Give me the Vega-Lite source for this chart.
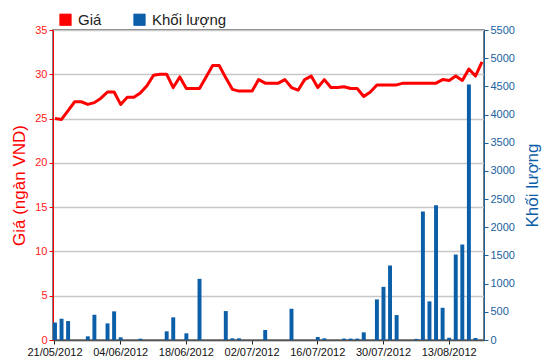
{
  "$schema": "https://vega.github.io/schema/vega-lite/v6.json",
  "width": 431,
  "height": 310,
  "autosize": {"type": "none"},
  "padding": {"left": 53, "top": 30, "right": 66, "bottom": 24},
  "config": {
    "font": "Liberation Sans",
    "view": {"stroke": "#555555", "strokeWidth": 1.5},
    "axis": {"labelFont": "Liberation Sans", "titleFont": "Liberation Sans", "titleFontWeight": "normal"}
  },
  "data": {"values": [
    {"date": "21/05/2012", "price": 25.0, "volume": 310},
    {"date": "22/05/2012", "price": 24.9, "volume": 377},
    {"date": "23/05/2012", "price": 25.9, "volume": 336},
    {"date": "24/05/2012", "price": 26.9, "volume": 0},
    {"date": "25/05/2012", "price": 26.9, "volume": 0},
    {"date": "28/05/2012", "price": 26.6, "volume": 65},
    {"date": "29/05/2012", "price": 26.8, "volume": 448},
    {"date": "30/05/2012", "price": 27.3, "volume": 0},
    {"date": "31/05/2012", "price": 28.0, "volume": 295},
    {"date": "01/06/2012", "price": 28.0, "volume": 508},
    {"date": "04/06/2012", "price": 26.6, "volume": 48},
    {"date": "05/06/2012", "price": 27.4, "volume": 0},
    {"date": "06/06/2012", "price": 27.4, "volume": 0},
    {"date": "07/06/2012", "price": 27.9, "volume": 23},
    {"date": "08/06/2012", "price": 28.7, "volume": 0},
    {"date": "11/06/2012", "price": 29.9, "volume": 0},
    {"date": "12/06/2012", "price": 30.0, "volume": 0},
    {"date": "13/06/2012", "price": 30.0, "volume": 154},
    {"date": "14/06/2012", "price": 28.5, "volume": 402},
    {"date": "15/06/2012", "price": 29.7, "volume": 0},
    {"date": "18/06/2012", "price": 28.4, "volume": 118},
    {"date": "19/06/2012", "price": 28.4, "volume": 0},
    {"date": "20/06/2012", "price": 28.4, "volume": 1085},
    {"date": "21/06/2012", "price": 29.7, "volume": 0},
    {"date": "22/06/2012", "price": 31.0, "volume": 0},
    {"date": "25/06/2012", "price": 31.0, "volume": 0},
    {"date": "26/06/2012", "price": 29.6, "volume": 513},
    {"date": "27/06/2012", "price": 28.3, "volume": 30},
    {"date": "28/06/2012", "price": 28.1, "volume": 30},
    {"date": "29/06/2012", "price": 28.1, "volume": 0},
    {"date": "02/07/2012", "price": 28.1, "volume": 0},
    {"date": "03/07/2012", "price": 29.4, "volume": 0},
    {"date": "04/07/2012", "price": 29.0, "volume": 177},
    {"date": "05/07/2012", "price": 29.0, "volume": 0},
    {"date": "06/07/2012", "price": 29.0, "volume": 0},
    {"date": "09/07/2012", "price": 29.4, "volume": 0},
    {"date": "10/07/2012", "price": 28.5, "volume": 554},
    {"date": "11/07/2012", "price": 28.2, "volume": 0},
    {"date": "12/07/2012", "price": 29.4, "volume": 0},
    {"date": "13/07/2012", "price": 29.8, "volume": 0},
    {"date": "16/07/2012", "price": 28.5, "volume": 53},
    {"date": "17/07/2012", "price": 29.4, "volume": 30},
    {"date": "18/07/2012", "price": 28.5, "volume": 0},
    {"date": "19/07/2012", "price": 28.5, "volume": 0},
    {"date": "20/07/2012", "price": 28.6, "volume": 25},
    {"date": "23/07/2012", "price": 28.4, "volume": 25},
    {"date": "24/07/2012", "price": 28.4, "volume": 25},
    {"date": "25/07/2012", "price": 27.5, "volume": 136},
    {"date": "26/07/2012", "price": 28.0, "volume": 0},
    {"date": "27/07/2012", "price": 28.8, "volume": 720},
    {"date": "30/07/2012", "price": 28.8, "volume": 943},
    {"date": "31/07/2012", "price": 28.8, "volume": 1322},
    {"date": "01/08/2012", "price": 28.8, "volume": 442},
    {"date": "02/08/2012", "price": 29.0, "volume": 0},
    {"date": "03/08/2012", "price": 29.0, "volume": 0},
    {"date": "06/08/2012", "price": 29.0, "volume": 20},
    {"date": "07/08/2012", "price": 29.0, "volume": 2278},
    {"date": "08/08/2012", "price": 29.0, "volume": 685},
    {"date": "09/08/2012", "price": 29.0, "volume": 2389},
    {"date": "10/08/2012", "price": 29.4, "volume": 572},
    {"date": "13/08/2012", "price": 29.3, "volume": 40},
    {"date": "14/08/2012", "price": 29.8, "volume": 1516},
    {"date": "15/08/2012", "price": 29.3, "volume": 1694},
    {"date": "16/08/2012", "price": 30.6, "volume": 4531},
    {"date": "17/08/2012", "price": 29.8, "volume": 35},
    {"date": "20/08/2012", "price": 31.4, "volume": 0}
  ]},
  "encoding": {
    "x": {
      "field": "date", "type": "ordinal", "sort": null,
      "scale": {"paddingInner": 0.4, "paddingOuter": 0},
      "axis": {
        "title": null, "labelAngle": 0, "labelFontSize": 11, "labelColor": "#111111",
        "values": ["21/05/2012", "04/06/2012", "18/06/2012", "02/07/2012", "16/07/2012", "30/07/2012", "13/08/2012"],
        "domainColor": "#555555", "domainWidth": 1.5, "tickColor": "#222222", "tickSize": 4, "labelPadding": 2
      }
    }
  },
  "layer": [
    {
      "mark": {"type": "bar", "opacity": 1},
      "encoding": {
        "y": {
          "field": "volume", "type": "quantitative",
          "scale": {"domain": [0, 5500], "nice": false},
          "axis": {
            "orient": "right", "title": "Khối lượng", "titleColor": "#0b5ea8", "titleFontSize": 17,
            "titleAngle": 270, "titlePadding": 27, "format": "d",
            "values": [0, 500, 1000, 1500, 2000, 2500, 3000, 3500, 4000, 4500, 5000, 5500],
            "grid": false, "labelColor": "#1a5f9e", "labelFontSize": 11,
            "domainColor": "#1a5f9e", "tickColor": "#1a5f9e", "tickSize": 4, "labelPadding": 2
          }
        },
        "color": {
          "datum": "Khối lượng",
          "scale": {"domain": ["Giá", "Khối lượng"], "range": ["#ff0000", "#0b5ea8"]},
          "legend": {
            "orient": "none", "legendX": 5, "legendY": -18, "direction": "horizontal", "title": null,
            "symbolType": "square", "symbolSize": 130, "symbolStrokeColor": "#333333", "symbolStrokeWidth": 0.8,
            "labelFontSize": 15, "labelColor": "#222222", "columnPadding": 30, "labelOffset": 5, "padding": 0
          }
        }
      }
    },
    {
      "mark": {"type": "line", "strokeWidth": 3, "strokeJoin": "round"},
      "encoding": {
        "y": {
          "field": "price", "type": "quantitative",
          "scale": {"domain": [0, 35], "nice": false},
          "axis": {
            "orient": "left", "title": "Giá (ngàn VND)", "titleColor": "#ff0000", "titleFontSize": 17,
            "titlePadding": 6,
            "values": [0, 5, 10, 15, 20, 25, 30, 35],
            "grid": true, "gridColor": "#c8c8c8", "gridWidth": 1.5,
            "labelColor": "#ff2020", "labelFontSize": 11,
            "domainColor": "#ff0000", "tickColor": "#ff0000", "tickSize": 4, "labelPadding": 2
          }
        },
        "color": {"datum": "Giá"}
      }
    }
  ],
  "resolve": {"scale": {"y": "independent"}}
}
